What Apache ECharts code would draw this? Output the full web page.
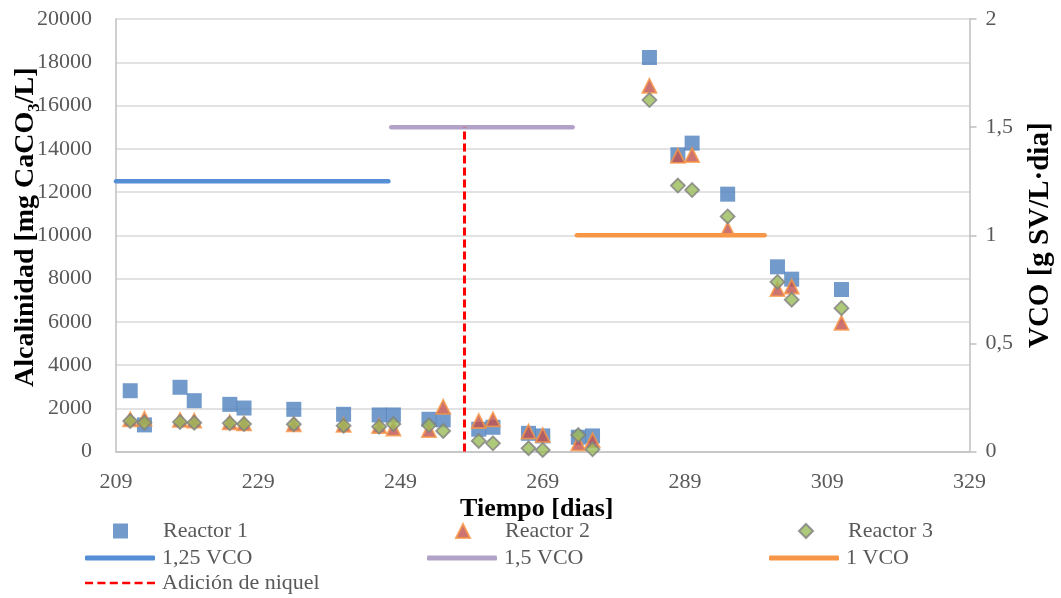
<!DOCTYPE html>
<html><head><meta charset="utf-8">
<script src="https://cdn.jsdelivr.net/npm/echarts@6/dist/echarts.min.js"></script>
<style>html,body{margin:0;padding:0;background:#fff}#c{width:1061px;height:598px}</style>
</head><body><div id="c"></div>
<script>
// ---- data ----
const days     = [211, 213, 218, 220, 225, 227, 234, 241, 246, 248, 253, 255, 260, 262, 267, 269, 274, 276, 284, 288, 290, 295, 302, 304, 311];
const reactor1 = [2810, 1230, 2970, 2350, 2180, 2010, 1950, 1720, 1690, 1690, 1490, 1460, 1030, 1120, 840, 720, 660, 720, 18220, 13720, 14260, 11900, 8540, 7970, 7490];
const reactor2 = [1490, 1520, 1460, 1430, 1350, 1300, 1260, 1230, 1180, 1060, 990, 2070, 1410, 1490, 920, 760, 380, 530, 16910, 13670, 13710, 10280, 7510, 7630, 5950];
const reactor3 = [1410, 1330, 1365, 1330, 1305, 1270, 1260, 1195, 1150, 1270, 1210, 950, 490, 380, 150, 70, 760, 100, 16250, 12300, 12090, 10870, 7840, 7020, 6630];

const vco125Days = [209, 247.3];   const vco125Level = 1.25;
const vco15Days  = [247.7, 273.2]; const vco15Level  = 1.5;
const vco1Days   = [273.8, 300.2]; const vco1Level   = 1.0;
const nickelDay  = 258;            const nickelRange = [0, 1.5];

const xMin = 209, xMax = 329, xStep = 20;
const yLeftMax = 20000, yLeftStep = 2000;
const yRightMax = 2, yRightStep = 0.5;

const names = ['Reactor 1', 'Reactor 2', 'Reactor 3', '1,25 VCO', '1,5 VCO', '1 VCO', 'Adición de niquel'];

// ---- chart ----
const FONT = 'Liberation Serif';
const pair = (xs, ys) => xs.map((x, i) => [x, ys[i]]);
const flat = (xs, v) => xs.map(x => [x, v]);

function legMarker(name, left, top, size) {
  return { data: [name], left: left, top: top, itemWidth: size, itemHeight: size, orient: 'horizontal',
           textStyle: { fontFamily: FONT, fontSize: 22, color: '#595959', padding: [0, 0, 0, 30] },
           padding: 0, itemGap: 0, selectedMode: false };
}
function legLine(name, left, top, icon, h) {
  return { data: [{ name: name, icon: icon }], left: left, top: top, itemWidth: 70, itemHeight: h, orient: 'horizontal',
           textStyle: { fontFamily: FONT, fontSize: 22, color: '#595959', padding: [0, 0, 0, 2] },
           padding: 0, itemGap: 0, selectedMode: false };
}
const dashIcon = 'path://M0,0h6v2h-6z M9.2,0h6v2h-6z M18.4,0h6v2h-6z M27.6,0h6v2h-6z M36.8,0h6v2h-6z M46,0h6v2h-6z';

const chart = echarts.init(document.getElementById('c'), null, { renderer: 'canvas' });
chart.setOption({
  animation: false,
  backgroundColor: '#ffffff',
  grid: { left: 116, right: 91.5, top: 19, bottom: 146.5, containLabel: false, outerBoundsMode: 'none' },
  legend: [
    legMarker(names[0], 113, 520, 15),
    legMarker(names[1], 455, 520, 14),
    legMarker(names[2], 798, 520, 14),
    legLine(names[3], 85, 547, 'roundRect', 5),
    legLine(names[4], 427, 547, 'roundRect', 5),
    legLine(names[5], 769, 547, 'roundRect', 5),
    legLine(names[6], 85, 572, dashIcon, 3)
  ],
  xAxis: {
    type: 'value', min: xMin, max: xMax, interval: xStep,
    name: 'Tiempo [dias]', nameLocation: 'middle', nameGap: 45, nameMoveOverlap: false,
    nameTextStyle: { fontFamily: FONT, fontSize: 26, fontWeight: 'bold', color: '#000', padding: [0, 12, 0, 0] },
    axisLine: { show: true, lineStyle: { color: '#bfbfbf', width: 1.5 } },
    axisTick: { show: false },
    splitLine: { show: false },
    axisLabel: { fontFamily: FONT, fontSize: 22, color: '#595959', margin: 20 }
  },
  yAxis: [
    {
      type: 'value', min: 0, max: yLeftMax, interval: yLeftStep,
      name: 'Alcalinidad [mg CaCO\u2083/L]', nameLocation: 'middle', nameGap: 76, nameRotate: 90, nameMoveOverlap: false,
      nameTextStyle: { fontFamily: FONT, fontSize: 28, fontWeight: 'bold', color: '#000', padding: [0, 0, 0, 16] },
      axisLine: { show: true, lineStyle: { color: '#bfbfbf', width: 1.5 } },
      axisTick: { show: false },
      splitLine: { show: true, lineStyle: { color: '#d9d9d9', width: 1.5 } },
      axisLabel: { fontFamily: FONT, fontSize: 22, color: '#595959', margin: 24, formatter: v => String(v) }
    },
    {
      type: 'value', min: 0, max: yRightMax, interval: yRightStep, position: 'right',
      name: 'VCO [g SV/L\u00b7dia]', nameLocation: 'middle', nameGap: 57, nameRotate: 90, nameMoveOverlap: false,
      nameTextStyle: { fontFamily: FONT, fontSize: 29, fontWeight: 'bold', color: '#000' },
      axisLine: { show: true, lineStyle: { color: '#bfbfbf', width: 1.5 } },
      axisTick: { show: true, inside: false, length: 7, lineStyle: { color: '#bfbfbf', width: 1.5 } },
      splitLine: { show: false },
      axisLabel: { fontFamily: FONT, fontSize: 22, color: '#595959', margin: 16,
                   formatter: v => String(v).replace('.', ',') }
    }
  ],
  series: [
    { name: names[0], type: 'scatter', symbol: 'rect', symbolSize: 15,
      itemStyle: { color: '#4F81BD' }, data: pair(days, reactor1) },
    { name: names[1], type: 'scatter', symbol: 'triangle', symbolSize: [14, 14],
      itemStyle: { color: '#C0504D', borderColor: '#F79646', borderWidth: 1.8 }, data: pair(days, reactor2) },
    { name: names[2], type: 'scatter', symbol: 'diamond', symbolSize: [14, 14],
      itemStyle: { color: '#9BBB59', borderColor: '#7F7F7F', borderWidth: 1.8 }, data: pair(days, reactor3) },
    { name: names[3], type: 'line', yAxisIndex: 1, symbol: 'none', showSymbol: false,
      lineStyle: { color: '#558ED5', width: 4.5, cap: 'round' }, itemStyle: { color: '#558ED5' },
      data: flat(vco125Days, vco125Level) },
    { name: names[4], type: 'line', yAxisIndex: 1, symbol: 'none', showSymbol: false,
      lineStyle: { color: '#B3A2C7', width: 4.5, cap: 'round' }, itemStyle: { color: '#B3A2C7' },
      data: flat(vco15Days, vco15Level) },
    { name: names[5], type: 'line', yAxisIndex: 1, symbol: 'none', showSymbol: false,
      lineStyle: { color: '#F79646', width: 4.5, cap: 'round' }, itemStyle: { color: '#F79646' },
      data: flat(vco1Days, vco1Level) },
    { name: names[6], type: 'line', yAxisIndex: 1, symbol: 'none', showSymbol: false,
      lineStyle: { color: '#FF0000', width: 3, type: [8, 4] }, itemStyle: { color: '#FF0000' },
      data: nickelRange.map(v => [nickelDay, v]) }
  ]
});
</script>
</body></html>
